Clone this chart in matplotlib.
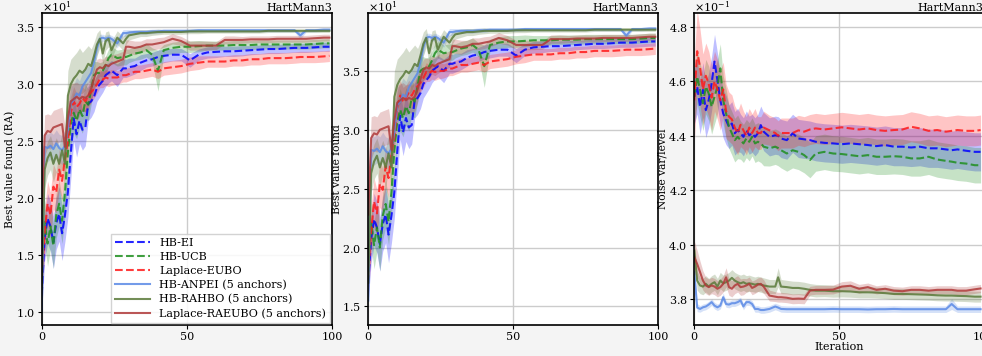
import matplotlib
matplotlib.use("Agg")
import matplotlib.pyplot as plt
from matplotlib.ticker import ScalarFormatter
import numpy as np

plt.rcParams['font.family'] = ['DejaVu Serif']
plt.rcParams['mathtext.fontset'] = 'dejavuserif'

iters = [0, 1, 2, 3, 4, 5, 6, 7, 8, 9, 10, 11, 12, 13, 14, 15, 16, 17, 18, 19, 20, 21, 22, 23, 24,
         26, 28, 29, 30, 32, 34, 36, 38, 40, 42, 45, 48, 51, 54, 57, 60, 63, 66, 69, 72, 75, 78, 81, 84, 87, 89, 91, 94, 97, 99]

labels = ["HB-EI", "HB-UCB", "Laplace-EUBO", "HB-ANPEI (5 anchors)", "HB-RAHBO (5 anchors)", "Laplace-RAEUBO (5 anchors)"]

# ---------- Panel 1: best value found (RA) ----------
ra_ei = [11.5, 16.5, 18.2, 17.5, 16.1, 17.8, 18.6, 16.9, 18.5, 20.5, 23.9, 27.0, 25.6, 26.8, 26.0, 26.2, 28.3, 28.5, 28.9, 29.7, 30.0, 30.3, 30.8, 31.0, 31.2,
         30.8, 31.4, 31.4, 31.5, 31.6, 31.9, 32.1, 32.2, 32.4, 32.5, 32.6, 32.6, 32.1, 32.6, 32.8, 32.85, 32.9, 32.9, 32.95, 33.0, 33.05, 33.1, 33.1, 33.15, 33.2, 33.2, 33.2, 33.25, 33.3, 33.3]
ra_ucb = [14.5, 17.9, 16.0, 17.5, 15.8, 18.5, 19.5, 18.0, 20.5, 24.0, 26.5, 27.5, 26.8, 27.8, 27.2, 28.5, 28.2, 29.5, 30.8, 31.0, 31.0, 31.2, 31.7, 32.3, 32.6,
          32.3, 32.4, 32.4, 32.5, 32.7, 32.8, 33.0, 32.6, 31.2, 33.0, 33.2, 33.3, 33.3, 33.35, 33.4, 33.4, 33.4, 33.45, 33.45, 33.45, 33.5, 33.5, 33.5, 33.5, 33.5, 33.5, 33.5, 33.55, 33.6, 33.6]
ra_eubo = [13.0, 17.0, 19.5, 18.5, 21.0, 20.5, 22.5, 21.5, 23.5, 25.0, 27.5, 28.5, 28.0, 28.3, 28.8, 28.5, 29.0, 29.3, 29.6, 30.0, 30.5, 30.4, 30.6, 30.5, 30.6,
           30.6, 30.8, 30.8, 30.9, 31.1, 31.1, 31.2, 31.3, 31.1, 31.4, 31.5, 31.6, 31.8, 31.9, 32.0, 32.0, 32.0, 32.1, 32.1, 32.2, 32.2, 32.3, 32.3, 32.3, 32.35, 32.4, 32.4, 32.4, 32.45, 32.5]
ra_anpei = [10.0, 24.5, 24.4, 24.6, 24.3, 24.8, 24.4, 24.2, 24.6, 26.0, 28.3, 28.6, 29.2, 29.0, 29.8, 30.2, 30.6, 31.0, 32.0, 33.2, 34.0, 34.1, 34.0, 34.1, 34.0,
            33.6, 34.5, 34.5, 34.55, 34.6, 34.6, 34.6, 34.65, 34.65, 34.7, 34.7, 34.7, 34.7, 34.75, 34.75, 34.75, 34.75, 34.75, 34.75, 34.75, 34.75, 34.75, 34.75, 34.75, 34.75, 34.3, 34.75, 34.75, 34.8, 34.8]
ra_rahbo = [12.0, 22.5, 23.5, 24.0, 23.0, 23.8, 23.0, 24.2, 23.0, 29.0, 30.0, 30.5, 30.8, 31.2, 31.0, 31.3, 31.8, 31.6, 32.5, 33.5, 34.0, 32.7, 33.8, 34.0, 33.0,
            34.1, 33.6, 34.0, 34.3, 34.4, 34.5, 34.5, 34.55, 34.6, 34.6, 34.6, 34.6, 34.65, 34.65, 34.65, 34.65, 34.65, 34.65, 34.65, 34.65, 34.65, 34.7, 34.7, 34.7, 34.7, 34.7, 34.7, 34.7, 34.7, 34.7]
ra_raeubo = [19.0, 25.5, 25.9, 25.8, 26.2, 26.3, 26.4, 26.5, 24.5, 27.0, 28.5, 28.7, 28.9, 28.7, 28.9, 28.8, 29.0, 29.6, 30.5, 31.3, 31.5, 31.4, 31.7, 31.6, 31.8,
             32.0, 32.2, 33.3, 33.3, 33.2, 33.3, 33.5, 33.5, 33.6, 33.7, 34.0, 33.8, 33.4, 33.4, 33.4, 33.4, 33.9, 33.9, 33.9, 33.95, 33.95, 33.95, 34.0, 34.0, 34.0, 34.0, 34.0, 34.05, 34.1, 34.1]

# ---------- Panel 2: best value found ----------
bv_ei = [17.0, 20.7, 22.4, 21.7, 20.3, 22.0, 22.8, 21.1, 22.7, 24.7, 28.1, 31.2, 29.8, 31.0, 30.2, 30.4, 32.5, 32.7, 33.1, 33.9, 34.2, 34.5, 35.0, 35.2, 35.4,
         35.0, 35.6, 35.6, 35.7, 35.8, 36.1, 36.3, 36.4, 36.6, 36.7, 36.8, 36.8, 36.3, 36.8, 37.0, 37.05, 37.1, 37.1, 37.15, 37.2, 37.25, 37.3, 37.3, 37.35, 37.4, 37.4, 37.4, 37.45, 37.5, 37.5]
bv_ucb = [18.7, 22.1, 20.2, 21.7, 20.0, 22.7, 23.7, 22.2, 24.7, 28.2, 30.7, 31.7, 31.0, 32.0, 31.4, 32.7, 32.4, 33.7, 35.0, 35.2, 35.2, 35.4, 35.9, 36.5, 36.8,
          36.5, 36.6, 36.6, 36.7, 36.9, 37.0, 37.2, 36.8, 35.4, 37.2, 37.4, 37.5, 37.5, 37.55, 37.6, 37.6, 37.6, 37.65, 37.65, 37.65, 37.7, 37.7, 37.7, 37.7, 37.7, 37.7, 37.7, 37.75, 37.8, 37.8]
bv_eubo = [17.4, 21.4, 23.9, 22.9, 25.4, 24.9, 26.9, 25.9, 27.9, 29.4, 31.9, 32.9, 32.4, 32.7, 33.2, 32.9, 33.4, 33.7, 34.0, 34.4, 34.9, 34.8, 35.0, 34.9, 35.0,
           35.0, 35.2, 35.2, 35.3, 35.5, 35.5, 35.6, 35.7, 35.5, 35.8, 35.9, 36.0, 36.2, 36.3, 36.4, 36.4, 36.4, 36.5, 36.5, 36.6, 36.6, 36.7, 36.7, 36.7, 36.75, 36.8, 36.8, 36.8, 36.85, 36.9]
bv_anpei = [15.5, 28.3, 28.2, 28.4, 28.1, 28.6, 28.2, 28.0, 28.4, 29.8, 32.1, 32.4, 33.0, 32.8, 33.6, 34.0, 34.4, 34.8, 35.8, 37.0, 37.8, 37.9, 37.8, 37.9, 37.8,
            37.4, 38.3, 38.3, 38.35, 38.4, 38.4, 38.4, 38.45, 38.45, 38.5, 38.5, 38.5, 38.5, 38.55, 38.55, 38.55, 38.55, 38.55, 38.55, 38.55, 38.55, 38.55, 38.55, 38.55, 38.55, 38.0, 38.55, 38.55, 38.6, 38.6]
bv_rahbo = [17.0, 26.3, 27.3, 27.8, 26.8, 27.6, 26.8, 28.0, 26.8, 32.8, 33.8, 34.3, 34.6, 35.0, 34.8, 35.1, 35.6, 35.4, 36.3, 37.3, 37.8, 36.5, 37.6, 37.8, 36.8,
            37.9, 37.4, 37.8, 38.1, 38.2, 38.3, 38.3, 38.35, 38.4, 38.4, 38.4, 38.4, 38.45, 38.45, 38.45, 38.45, 38.45, 38.45, 38.45, 38.45, 38.45, 38.5, 38.5, 38.5, 38.5, 38.5, 38.5, 38.5, 38.5, 38.5]
bv_raeubo = [22.8, 29.3, 29.7, 29.6, 30.0, 30.1, 30.2, 30.3, 28.3, 30.8, 32.3, 32.5, 32.7, 32.5, 32.7, 32.6, 32.8, 33.4, 34.3, 35.1, 35.3, 35.2, 35.5, 35.4, 35.6,
             35.8, 36.0, 37.1, 37.1, 37.0, 37.1, 37.3, 37.3, 37.4, 37.5, 37.8, 37.6, 37.2, 37.2, 37.2, 37.2, 37.7, 37.7, 37.7, 37.75, 37.75, 37.75, 37.8, 37.8, 37.8, 37.8, 37.8, 37.85, 37.9, 37.9]

# spread of the best-value curves (panels 1 and 2)
sd_ei = [1.5, 2.0, 2.2, 2.2, 2.3, 2.3, 2.4, 2.4, 2.3, 2.2, 2.2, 2.0, 2.0, 2.0, 1.8, 1.6, 1.5, 1.4, 1.3, 1.2, 1.1, 1.0, 1.0, 0.9, 0.9,
         1.0, 0.8, 0.8, 0.8, 0.7, 0.7, 0.6, 0.6, 0.6, 0.6, 0.55, 0.55, 0.6, 0.5, 0.5, 0.5, 0.45, 0.45, 0.45, 0.4, 0.4, 0.4, 0.4, 0.4, 0.4, 0.4, 0.4, 0.4, 0.4, 0.4]
sd_ucb = [1.5, 2.0, 2.0, 2.0, 2.0, 2.0, 2.0, 2.0, 2.0, 2.0, 1.8, 1.8, 1.6, 1.6, 1.5, 1.5, 1.4, 1.3, 1.2, 1.0, 0.9, 0.8, 0.8, 0.8, 0.7,
          0.7, 0.7, 0.7, 0.6, 0.6, 0.6, 0.6, 0.6, 1.8, 0.5, 0.5, 0.5, 0.5, 0.5, 0.4, 0.4, 0.4, 0.4, 0.4, 0.4, 0.4, 0.4, 0.4, 0.4, 0.4, 0.4, 0.4, 0.4, 0.4, 0.4]
sd_eubo = [1.5, 2.0, 2.0, 2.0, 2.0, 1.8, 1.8, 1.7, 1.6, 1.5, 1.4, 1.3, 1.2, 1.1, 1.0, 1.0, 0.9, 0.9, 0.8, 0.8, 0.8, 0.7, 0.7, 0.7, 0.7,
           0.6, 0.6, 0.6, 0.6, 0.6, 0.6, 0.6, 0.6, 0.6, 0.6, 0.6, 0.6, 0.6, 0.6, 0.5, 0.5, 0.5, 0.5, 0.5, 0.5, 0.5, 0.5, 0.5, 0.5, 0.5, 0.5, 0.5, 0.5, 0.5, 0.5]
sd_anpei = [1.5, 1.3, 1.2, 1.2, 1.3, 1.2, 1.2, 1.3, 1.4, 1.6, 1.5, 1.4, 1.4, 1.3, 1.2, 1.2, 1.0, 1.0, 0.9, 0.7, 0.4, 0.3, 0.3, 0.3, 0.3,
            0.4, 0.3, 0.3, 0.25, 0.2, 0.2, 0.2, 0.2, 0.2, 0.15, 0.15, 0.15, 0.15, 0.15, 0.15, 0.15, 0.15, 0.15, 0.15, 0.15, 0.15, 0.15, 0.15, 0.15, 0.15, 0.3, 0.15, 0.15, 0.15, 0.15]
sd_rahbo = [1.5, 1.6, 1.5, 1.5, 1.6, 1.5, 1.6, 1.5, 1.8, 2.2, 2.2, 2.0, 2.0, 2.0, 1.8, 1.8, 1.6, 1.5, 1.2, 1.0, 0.8, 0.9, 0.8, 0.7, 0.8,
            0.6, 0.6, 0.5, 0.4, 0.35, 0.3, 0.3, 0.25, 0.25, 0.2, 0.2, 0.2, 0.2, 0.2, 0.15, 0.15, 0.15, 0.15, 0.15, 0.15, 0.15, 0.15, 0.15, 0.15, 0.15, 0.15, 0.15, 0.15, 0.15, 0.15]
sd_raeubo = [2.0, 1.8, 1.5, 1.5, 1.5, 1.5, 1.5, 1.5, 1.8, 1.8, 1.5, 1.4, 1.3, 1.3, 1.2, 1.2, 1.2, 1.1, 1.0, 0.9, 0.8, 0.8, 0.8, 0.8, 0.8,
             0.7, 0.7, 0.6, 0.6, 0.6, 0.5, 0.5, 0.5, 0.5, 0.45, 0.45, 0.4, 0.4, 0.4, 0.4, 0.35, 0.35, 0.35, 0.3, 0.3, 0.3, 0.3, 0.3, 0.3, 0.3, 0.3, 0.3, 0.3, 0.3, 0.3]

# ---------- Panel 3: noise var/level ----------
nv_ei = [0.4543, 0.4580, 0.4506, 0.4568, 0.4494, 0.4531, 0.4592, 0.4672, 0.4604, 0.4531, 0.4482, 0.4457, 0.4433, 0.4445, 0.4409, 0.4421, 0.4409, 0.4396, 0.4421, 0.4402, 0.4409, 0.4396, 0.4409, 0.4439, 0.4415,
         0.4396, 0.4402, 0.4400, 0.4390, 0.4384, 0.4409, 0.4390, 0.4387, 0.4384, 0.4378, 0.4374, 0.4372, 0.4369, 0.4372, 0.4369, 0.4366, 0.4362, 0.4366, 0.4360, 0.4360, 0.4357, 0.4360, 0.4354, 0.4354, 0.4350, 0.4347, 0.4350, 0.4345, 0.4341, 0.4341]
nv_ucb = [0.4543, 0.4617, 0.4568, 0.4519, 0.4580, 0.4555, 0.4506, 0.4543, 0.4580, 0.4647, 0.4531, 0.4482, 0.4433, 0.4409, 0.4384, 0.4396, 0.4384, 0.4372, 0.4390, 0.4378, 0.4396, 0.4372, 0.4378, 0.4372, 0.4360,
          0.4354, 0.4360, 0.4355, 0.4347, 0.4335, 0.4347, 0.4341, 0.4329, 0.4311, 0.4335, 0.4341, 0.4335, 0.4333, 0.4329, 0.4325, 0.4329, 0.4323, 0.4323, 0.4325, 0.4323, 0.4317, 0.4317, 0.4323, 0.4313, 0.4308, 0.4305, 0.4301, 0.4298, 0.4292, 0.4292]
nv_eubo = [0.4530, 0.4710, 0.4650, 0.4570, 0.4620, 0.4590, 0.4540, 0.4600, 0.4570, 0.4530, 0.4570, 0.4490, 0.4470, 0.4460, 0.4430, 0.4410, 0.4440, 0.4420, 0.4400, 0.4430, 0.4410, 0.4430, 0.4410, 0.4410, 0.4430,
           0.4420, 0.4410, 0.4400, 0.4410, 0.4410, 0.4410, 0.4420, 0.4415, 0.4423, 0.4427, 0.4423, 0.4427, 0.4431, 0.4427, 0.4423, 0.4427, 0.4421, 0.4418, 0.4421, 0.4423, 0.4433, 0.4427, 0.4418, 0.4421, 0.4415, 0.4418, 0.4421, 0.4418, 0.4418, 0.4421]
nv_anpei = [0.3900, 0.3770, 0.3765, 0.3771, 0.3774, 0.3781, 0.3790, 0.3777, 0.3771, 0.3777, 0.3808, 0.3783, 0.3781, 0.3786, 0.3786, 0.3790, 0.3796, 0.3774, 0.3790, 0.3790, 0.3783, 0.3765, 0.3765, 0.3761, 0.3761,
            0.3765, 0.3774, 0.3770, 0.3765, 0.3764, 0.3764, 0.3764, 0.3764, 0.3764, 0.3764, 0.3764, 0.3765, 0.3764, 0.3764, 0.3764, 0.3763, 0.3764, 0.3764, 0.3765, 0.3764, 0.3764, 0.3764, 0.3764, 0.3764, 0.3764, 0.3783, 0.3764, 0.3764, 0.3764, 0.3764]
nv_rahbo = [0.3979, 0.3869, 0.3851, 0.3847, 0.3857, 0.3847, 0.3857, 0.3863, 0.3847, 0.3869, 0.3859, 0.3863, 0.3869, 0.3879, 0.3869, 0.3863, 0.3859, 0.3863, 0.3857, 0.3859, 0.3857, 0.3854, 0.3857, 0.3854, 0.3851,
            0.3847, 0.3847, 0.3881, 0.3847, 0.3845, 0.3842, 0.3842, 0.3839, 0.3835, 0.3832, 0.3832, 0.3830, 0.3830, 0.3829, 0.3826, 0.3826, 0.3825, 0.3823, 0.3820, 0.3820, 0.3819, 0.3818, 0.3817, 0.3815, 0.3814, 0.3814, 0.3813, 0.3812, 0.3810, 0.3810]
nv_raeubo = [0.3955, 0.3930, 0.3900, 0.3869, 0.3851, 0.3845, 0.3851, 0.3847, 0.3839, 0.3845, 0.3857, 0.3881, 0.3845, 0.3839, 0.3851, 0.3857, 0.3845, 0.3847, 0.3851, 0.3857, 0.3842, 0.3847, 0.3854, 0.3857, 0.3847,
             0.3814, 0.3810, 0.3808, 0.3808, 0.3806, 0.3802, 0.3803, 0.3802, 0.3832, 0.3835, 0.3835, 0.3836, 0.3847, 0.3850, 0.3839, 0.3845, 0.3835, 0.3839, 0.3832, 0.3830, 0.3835, 0.3835, 0.3832, 0.3835, 0.3835, 0.3835, 0.3832, 0.3832, 0.3837, 0.3840]

nsd_ei = [0.010, 0.010, 0.010, 0.010, 0.010, 0.010, 0.010, 0.010, 0.010, 0.009, 0.009, 0.009, 0.008, 0.008, 0.008, 0.008, 0.007, 0.007, 0.007, 0.007, 0.007, 0.007, 0.007, 0.007, 0.007,
          0.007, 0.007, 0.007, 0.007, 0.007, 0.007, 0.007, 0.007, 0.007, 0.007, 0.007, 0.007, 0.007, 0.007, 0.007, 0.007, 0.007, 0.007, 0.007, 0.007, 0.007, 0.007, 0.007, 0.007, 0.007, 0.007, 0.007, 0.007, 0.007, 0.007]
nsd_ucb = [0.010, 0.010, 0.010, 0.010, 0.010, 0.010, 0.010, 0.010, 0.010, 0.009, 0.009, 0.009, 0.008, 0.008, 0.008, 0.008, 0.007, 0.007, 0.007, 0.007, 0.007, 0.007, 0.007, 0.007, 0.007,
           0.0065, 0.0065, 0.0065, 0.0065, 0.0065, 0.0065, 0.0065, 0.0065, 0.0065, 0.0065, 0.0065, 0.0065, 0.0065, 0.0065, 0.0065, 0.0065, 0.0065, 0.0065, 0.0065, 0.0065, 0.0065, 0.0065, 0.0065, 0.0065, 0.0065, 0.0065, 0.0065, 0.0065, 0.0065, 0.0065]
nsd_eubo = [0.015, 0.015, 0.014, 0.013, 0.012, 0.012, 0.012, 0.011, 0.011, 0.011, 0.010, 0.010, 0.009, 0.009, 0.008, 0.008, 0.008, 0.007, 0.007, 0.007, 0.007, 0.007, 0.006, 0.006, 0.006,
            0.0055, 0.0055, 0.0055, 0.0055, 0.0055, 0.0055, 0.0055, 0.0055, 0.0055, 0.0055, 0.0055, 0.0055, 0.0055, 0.0055, 0.0055, 0.0055, 0.0055, 0.0055, 0.0055, 0.0055, 0.0055, 0.0055, 0.0055, 0.0055, 0.0055, 0.0055, 0.0055, 0.0055, 0.0055, 0.0055]
nsd_anpei = [0.0040, 0.0015, 0.0012, 0.0012, 0.0012, 0.0012, 0.0012, 0.0012, 0.0012, 0.0012, 0.0015, 0.0012, 0.0012, 0.0012, 0.0012, 0.0012, 0.0012, 0.0012, 0.0012, 0.0012, 0.0012, 0.0012, 0.0012, 0.0012, 0.0012,
             0.0012, 0.0012, 0.0012, 0.0012, 0.0012, 0.0012, 0.0012, 0.0012, 0.0012, 0.0012, 0.0012, 0.0012, 0.0012, 0.0012, 0.0012, 0.0012, 0.0012, 0.0012, 0.0012, 0.0012, 0.0012, 0.0012, 0.0012, 0.0012, 0.0012, 0.0020, 0.0012, 0.0012, 0.0012, 0.0012]
nsd_rahbo = [0.0040, 0.0035, 0.0030, 0.0030, 0.0030, 0.0030, 0.0030, 0.0030, 0.0030, 0.0030, 0.0030, 0.0030, 0.0030, 0.0030, 0.0030, 0.0030, 0.0030, 0.0030, 0.0030, 0.0030, 0.0028, 0.0028, 0.0028, 0.0028, 0.0028,
             0.0026, 0.0026, 0.0035, 0.0026, 0.0025, 0.0025, 0.0024, 0.0024, 0.0023, 0.0023, 0.0022, 0.0022, 0.0021, 0.0021, 0.0020, 0.0020, 0.0020, 0.0020, 0.0020, 0.0020, 0.0020, 0.0020, 0.0020, 0.0020, 0.0020, 0.0020, 0.0020, 0.0020, 0.0020, 0.0020]
nsd_raeubo = [0.0060, 0.0050, 0.0040, 0.0035, 0.0030, 0.0030, 0.0030, 0.0030, 0.0030, 0.0030, 0.0030, 0.0035, 0.0030, 0.0030, 0.0030, 0.0030, 0.0030, 0.0030, 0.0025, 0.0025, 0.0025, 0.0025, 0.0025, 0.0025, 0.0025,
              0.0020, 0.0018, 0.0018, 0.0018, 0.0018, 0.0018, 0.0018, 0.0018, 0.0016, 0.0016, 0.0016, 0.0016, 0.0018, 0.0018, 0.0016, 0.0015, 0.0015, 0.0015, 0.0015, 0.0015, 0.0015, 0.0015, 0.0015, 0.0015, 0.0015, 0.0015, 0.0015, 0.0015, 0.0015, 0.0015]

colors = ["#0000ff", "#1f8f1f", "#ff1a1a", "#5b8ae6", "#5a7a3a", "#b03a3a"]
styles = ["--", "--", "--", "-", "-", "-"]

panels = [
    dict(means=[ra_ei, ra_ucb, ra_eubo, ra_anpei, ra_rahbo, ra_raeubo],
         sds=[sd_ei, sd_ucb, sd_eubo, sd_anpei, sd_rahbo, sd_raeubo],
         ylabel="Best value found (RA)", ylim=(8.83, 36.24), yticks=[10, 15, 20, 25, 30, 35], xlabel=None),
    dict(means=[bv_ei, bv_ucb, bv_eubo, bv_anpei, bv_rahbo, bv_raeubo],
         sds=[sd_ei, sd_ucb, sd_eubo, sd_anpei, sd_rahbo, sd_raeubo],
         ylabel="Best value found", ylim=(13.42, 39.89), yticks=[15, 20, 25, 30, 35], xlabel=None),
    dict(means=[nv_ei, nv_ucb, nv_eubo, nv_anpei, nv_rahbo, nv_raeubo],
         sds=[nsd_ei, nsd_ucb, nsd_eubo, nsd_anpei, nsd_rahbo, nsd_raeubo],
         ylabel="Noise var/level", ylim=(0.3706, 0.4849), yticks=[0.38, 0.40, 0.42, 0.44, 0.46, 0.48], xlabel="Iteration"),
]

fig = plt.figure(figsize=(9.82, 3.56), dpi=100, facecolor="#f4f4f4")
positions = [[0.0425, 0.087, 0.2959, 0.8756], [0.375, 0.087, 0.2953, 0.8756], [0.707, 0.087, 0.2945, 0.8756]]

x = np.array(iters)
for k, (p, pos) in enumerate(zip(panels, positions)):
    ax = fig.add_axes(pos)
    ax.set_facecolor("white")
    for m, s, c, ls, lab in zip(p["means"], p["sds"], colors, styles, labels):
        m = np.array(m); s = np.array(s)
        assert len(m) == len(x) and len(s) == len(x), (lab, len(m), len(s))
        ax.fill_between(x, m - s, m + s, color=c, alpha=0.25, lw=0)
        ax.plot(x, m, ls, color=c, lw=1.5, alpha=0.85, label=lab)
    ax.set_xlim(0, 100)
    ax.set_ylim(*p["ylim"])
    ax.set_xticks([0, 50, 100])
    ax.set_yticks(p["yticks"])
    fmt = ScalarFormatter(useMathText=True)
    fmt.set_powerlimits((0, 0))
    ax.yaxis.set_major_formatter(fmt)
    ax.yaxis.OFFSETTEXTPAD = 1.0
    ax.yaxis.get_offset_text().set_fontsize(8)
    ax.grid(True, color="#cccccc", lw=1.0)
    ax.set_axisbelow(True)
    for sp in ax.spines.values():
        sp.set_color("black"); sp.set_linewidth(1.2)
    ax.tick_params(labelsize=8, length=3, width=0.8, direction="out", pad=2)
    ax.set_ylabel(p["ylabel"], fontsize=7.7, labelpad=0.5)
    if p["xlabel"]:
        ax.set_xlabel(p["xlabel"], fontsize=8, labelpad=0)
    ax.set_title("HartMann3", loc="right", fontsize=8, pad=1.5)
    if k == 0:
        leg = ax.legend(loc="lower right", fontsize=8, handlelength=3.2, labelspacing=0.35,
                        borderaxespad=0.2, borderpad=0.35, framealpha=0.85, edgecolor="#cccccc", fancybox=False)

fig.savefig("out.png", dpi=100, facecolor=fig.get_facecolor())
